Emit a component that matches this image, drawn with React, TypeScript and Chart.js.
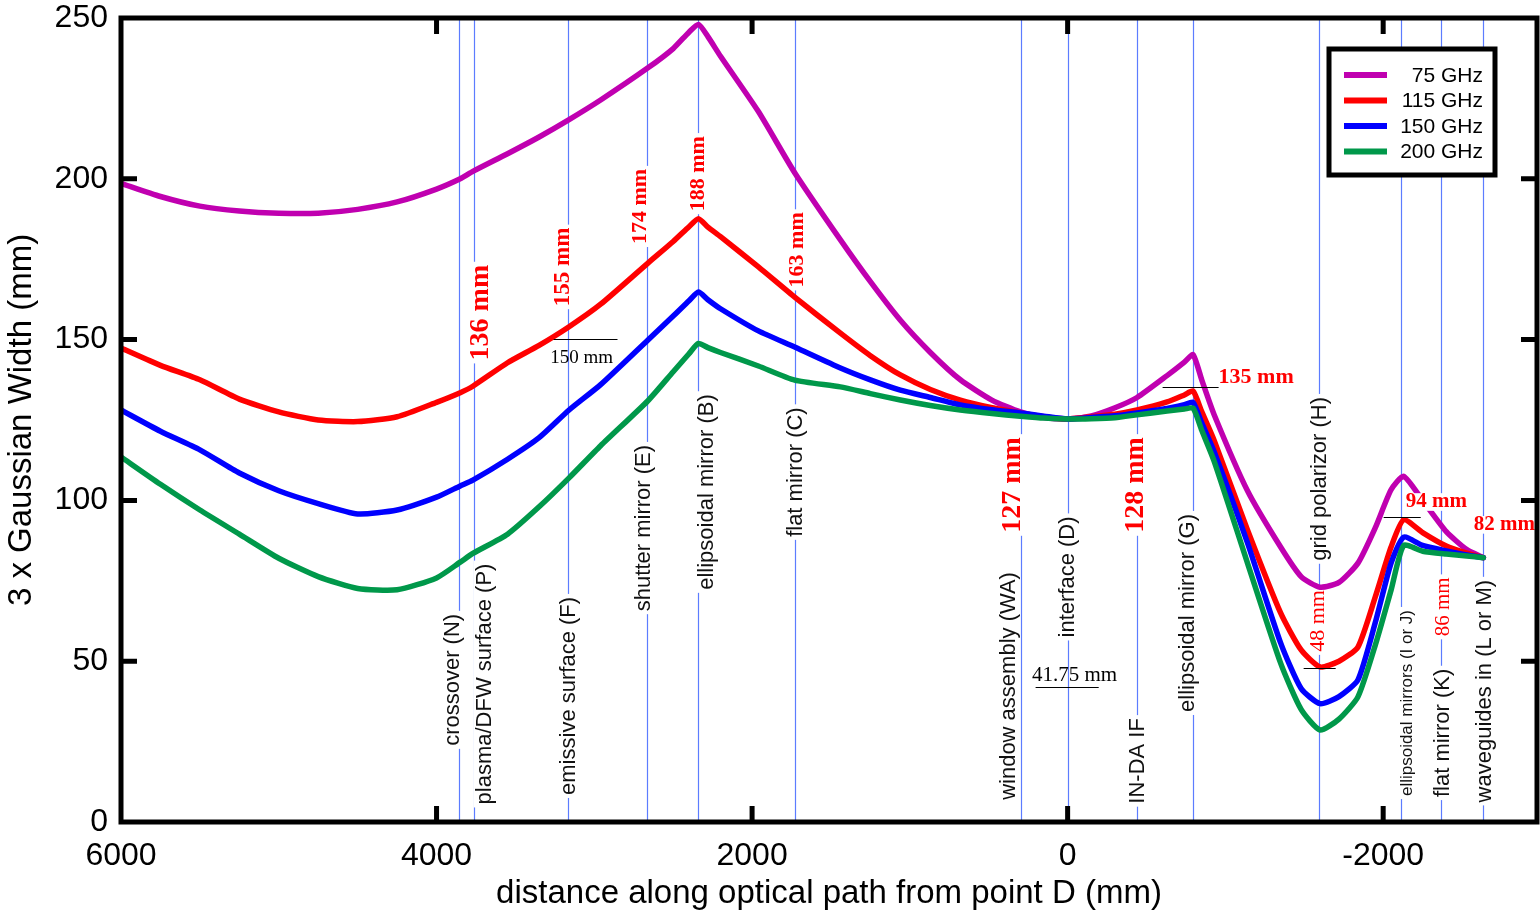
import React, { useEffect, useRef } from 'react';
import { Chart, registerables } from 'chart.js';

Chart.register(...registerables);

// ---------- data ----------
const distances = [6000, 5750, 5500, 5250, 5000, 4750, 4500, 4250, 4000, 3850, 3770, 3550, 3350, 3160, 2960, 2660, 2500, 2400, 2340, 2280, 2200, 1960, 1730, 1440, 1250, 1060, 870, 680, 480, 300, 150, 0, -150, -300, -440, -630, -740, -795, -850, -930, -1140, -1350, -1480, -1600, -1720, -1840, -1950, -2050, -2130, -2250, -2400, -2530, -2635];

const width75 = [198.6, 194.5, 191.5, 190, 189.3, 189.3, 190.5, 192.8, 196.8, 200, 202.3, 207.8, 213, 218.4, 224.5, 234.5, 240.5, 245.6, 248, 244.2, 238.1, 220.9, 201.9, 181, 168, 156, 146, 137.5, 131.2, 127.5, 125.8, 125.3, 126.3, 128.8, 132, 138.8, 143, 145.3, 137.5, 126.5, 103, 85.5, 76.3, 73, 74.5, 80.5, 91.5, 103.3, 107.5, 100, 90.3, 84.7, 82.2];

const width115 = [147.4, 142, 137.5, 131.5, 127.5, 125, 124.5, 126, 130.5, 133.5, 135.5, 142.8, 148.2, 154, 161, 173.8, 180.5, 185.1, 187.6, 185, 182, 172.6, 163.2, 152, 145, 139, 134.5, 131.2, 128.8, 127.2, 126, 125.3, 126, 126.8, 128.1, 130.6, 132.8, 134, 127.6, 118.5, 90.8, 65, 53.5, 48.2, 50, 54.4, 70, 85.5, 94, 90, 85.8, 83.6, 82.2];

const width150 = [128.1, 121.5, 115.7, 108.5, 103, 99, 95.8, 97, 101, 104.5, 106.3, 112.8, 119.5, 128.1, 136, 149.9, 157.3, 162.1, 164.8, 162.4, 159.6, 152.7, 147.7, 141.2, 137.5, 134.3, 132, 129.7, 128.2, 127.2, 126.2, 125.3, 125.8, 126.3, 127.2, 128.6, 129.8, 130.5, 124.1, 115, 86.8, 55.7, 41.5, 36.8, 39, 44.2, 62, 80.5, 88.6, 86, 84.3, 83, 82.2];

const width200 = [113.5, 105, 97, 89.5, 82, 76.3, 72.6, 72.2, 75.9, 80.8, 83.5, 89.5, 98, 107, 117, 131, 140, 145.6, 148.8, 147.5, 146, 141.8, 137.4, 135.3, 133.2, 131.2, 129.5, 128.1, 127, 126.2, 125.6, 125.3, 125.4, 125.7, 126.6, 127.8, 128.4, 128.7, 121.8, 112, 80.5, 49.4, 35, 28.6, 32, 38.9, 55, 72.1, 86, 84.2, 83.3, 82.7, 82.2];

const seriesLabels = ['75 GHz', '115 GHz', '150 GHz', '200 GHz'];
const seriesValues = [width75, width115, width150, width200];

const xTickValues = [6000, 4000, 2000, 0, -2000];
const yTickValues = [0, 50, 100, 150, 200, 250];

const componentNames = [
  'crossover (N)', 'plasma/DFW surface (P)', 'emissive surface (F)', 'shutter mirror (E)',
  'ellipsoidal mirror (B)', 'flat mirror (C)', 'window assembly (WA)', 'interface (D)',
  'IN-DA IF', 'ellipsoidal mirror (G)', 'grid polarizor (H)', 'ellipsoidal mirrors (I or J)',
  'flat mirror (K)', 'waveguides in (L or M)',
];
const componentDistances = [3855, 3765, 3165, 2665, 2342, 1728, 297, 0, -437, -797, -1595, -2115, -2367, -2633];

const widthNoteTexts = ['136 mm', '155 mm', '174 mm', '188 mm', '163 mm', '127 mm', '128 mm', '48 mm', '86 mm'];
const widthNoteDistances = [3721, 3195, 2707, 2339, 1712, 349, -431, -1591, -2383];
const flatNoteTexts = ['135 mm', '94 mm', '82 mm'];
const flatNoteDistances = [-957, -2143, -2574];

// ---------- layout / style ----------
const SANS = '"Liberation Sans", Arial, Helvetica, sans-serif';
const SERIF = '"Liberation Serif", "Times New Roman", Times, serif';
const seriesColors = ['#C000B0', '#FF0000', '#0000FF', '#00984A'];
const componentLabelLayout = [
  { y: 44.2, dx: -6, size: 22 }, { y: 42.9, dx: 11, size: 22 }, { y: 39.2, dx: 1, size: 22 },
  { y: 91.4, dx: -3, size: 22 }, { y: 102.6, dx: 9, size: 22 }, { y: 108.8, dx: 1, size: 22 },
  { y: 42.3, dx: -12, size: 22 }, { y: 76.2, dx: 0, size: 22 }, { y: 19.0, dx: 1, size: 22 },
  { y: 65.0, dx: -5, size: 22 }, { y: 106.7, dx: 1, size: 22 }, { y: 37.0, dx: 6, size: 17 },
  { y: 27.7, dx: 2, size: 22 }, { y: 40.7, dx: 2, size: 22 },
];
const widthNoteLayout = [
  { y: 158.4, size: 28, bold: true }, { y: 172.6, size: 23, bold: true }, { y: 191.4, size: 22, bold: true },
  { y: 201.6, size: 22, bold: true }, { y: 177.9, size: 22, bold: true }, { y: 104.8, size: 28, bold: true },
  { y: 104.8, size: 28, bold: true }, { y: 62.5, size: 22, bold: false }, { y: 66.9, size: 21, bold: false },
];
const flatNoteLayout = [
  { y: 138.4, size: 22 }, { y: 99.5, size: 21 }, { y: 92.4, size: 21 },
];
// black markers: [x1, x2, y]
const markerSegments = [
  [3258, 2853, 150.1], [-602, -957, 135.3], [203, -197, 42.0], [-1496, -1699, 47.9], [-2003, -2238, 94.8],
];
const markerTexts = [
  { text: '150 mm', x: 3081, y: 144.3, size: 19 },
  { text: '41.75 mm', x: -44, y: 45.7, size: 21 },
];

function drawRotated(ctx: CanvasRenderingContext2D, text: string, cx: number, cy: number, font: string, size: number, color: string) {
  ctx.save();
  ctx.font = font;
  const w = ctx.measureText(text).width;
  ctx.translate(cx, cy);
  ctx.rotate(-Math.PI / 2);
  ctx.fillStyle = '#ffffff';
  ctx.fillRect(-w / 2 - 3, -size * 0.5, w + 6, size);
  ctx.fillStyle = color;
  ctx.textAlign = 'center';
  ctx.textBaseline = 'middle';
  ctx.fillText(text, 0, 0);
  ctx.restore();
}

const decorPlugin = {
  id: 'decor',
  beforeDatasetsDraw(chart: any) {
    const { ctx, chartArea: a, scales } = chart;
    const xs = scales.x;
    const ys = scales.y;
    ctx.save();
    // component vertical lines
    ctx.strokeStyle = '#5C7CFF';
    ctx.lineWidth = 1.2;
    componentDistances.forEach((d) => {
      const px = Math.round(xs.getPixelForValue(d)) + 0.5;
      ctx.beginPath();
      ctx.moveTo(px, a.top);
      ctx.lineTo(px, a.bottom);
      ctx.stroke();
    });
    // component labels
    componentNames.forEach((name, i) => {
      const L = componentLabelLayout[i];
      const cx = xs.getPixelForValue(componentDistances[i]) + L.dx;
      const cy = ys.getPixelForValue(L.y);
      drawRotated(ctx, name, cx, cy, `${L.size}px ${SANS}`, L.size, '#111');
    });
    // rotated width notes
    widthNoteTexts.forEach((t, i) => {
      const L = widthNoteLayout[i];
      const cx = xs.getPixelForValue(widthNoteDistances[i]);
      const cy = ys.getPixelForValue(L.y);
      drawRotated(ctx, t, cx, cy, `${L.bold ? 'bold ' : ''}${L.size}px ${SERIF}`, L.size, '#FF0000');
    });
    ctx.restore();
  },
  afterDatasetsDraw(chart: any) {
    const { ctx, chartArea: a, scales } = chart;
    const xs = scales.x;
    const ys = scales.y;
    ctx.save();
    // black markers
    ctx.strokeStyle = '#000';
    ctx.lineWidth = 1;
    markerSegments.forEach(([x1, x2, y]) => {
      const py = Math.round(ys.getPixelForValue(y)) + 0.5;
      ctx.beginPath();
      ctx.moveTo(xs.getPixelForValue(x1), py);
      ctx.lineTo(xs.getPixelForValue(x2), py);
      ctx.stroke();
    });
    ctx.fillStyle = '#000';
    ctx.textAlign = 'center';
    ctx.textBaseline = 'middle';
    markerTexts.forEach((m) => {
      ctx.font = `${m.size}px ${SERIF}`;
      ctx.fillText(m.text, xs.getPixelForValue(m.x), ys.getPixelForValue(m.y));
    });
    // horizontal red notes
    ctx.textAlign = 'left';
    flatNoteTexts.forEach((t, i) => {
      const L = flatNoteLayout[i];
      ctx.font = `bold ${L.size}px ${SERIF}`;
      const w = ctx.measureText(t).width;
      const px = xs.getPixelForValue(flatNoteDistances[i]);
      const py = ys.getPixelForValue(L.y);
      ctx.fillStyle = '#fff';
      ctx.fillRect(px - 1, py - L.size * 0.42, w + 2, L.size * 0.84);
      ctx.fillStyle = '#FF0000';
      ctx.fillText(t, px, py);
    });
    // frame
    ctx.strokeStyle = '#000';
    ctx.lineWidth = 5;
    ctx.strokeRect(a.left, a.top, a.right - a.left, a.bottom - a.top);
    // inward ticks
    const tl = 16;
    ctx.lineWidth = 5;
    ctx.beginPath();
    xTickValues.forEach((v) => {
      const px = xs.getPixelForValue(v);
      if (px <= a.left + 3 || px >= a.right - 3) return;
      ctx.moveTo(px, a.bottom);
      ctx.lineTo(px, a.bottom - tl);
      ctx.moveTo(px, a.top);
      ctx.lineTo(px, a.top + tl);
    });
    yTickValues.forEach((v) => {
      const py = ys.getPixelForValue(v);
      if (py <= a.top + 3 || py >= a.bottom - 3) return;
      ctx.moveTo(a.left, py);
      ctx.lineTo(a.left + tl, py);
      ctx.moveTo(a.right, py);
      ctx.lineTo(a.right - tl, py);
    });
    ctx.stroke();
    // legend
    const bx1 = a.right - 208;
    const bx2 = a.right - 42;
    const by1 = a.top + 31;
    const by2 = a.top + 157;
    ctx.fillStyle = '#fff';
    ctx.fillRect(bx1, by1, bx2 - bx1, by2 - by1);
    ctx.lineWidth = 5;
    ctx.strokeStyle = '#000';
    ctx.strokeRect(bx1, by1, bx2 - bx1, by2 - by1);
    ctx.font = `21px ${SANS}`;
    ctx.textAlign = 'right';
    ctx.textBaseline = 'middle';
    seriesLabels.forEach((lab, i) => {
      const ry = by1 + 26 + i * 25.5;
      ctx.strokeStyle = seriesColors[i];
      ctx.lineWidth = 6;
      ctx.beginPath();
      ctx.moveTo(bx1 + 15, ry);
      ctx.lineTo(bx1 + 58, ry);
      ctx.stroke();
      ctx.fillStyle = '#000';
      ctx.fillText(lab, bx2 - 12, ry + 1);
    });
    ctx.restore();
  },
};

export default function App() {
  const canvasRef = useRef<HTMLCanvasElement | null>(null);

  useEffect(() => {
    const canvas = canvasRef.current;
    if (!canvas) return;
    const datasets = seriesValues.map((vals, i) => ({
      label: seriesLabels[i],
      data: distances.map((d, j) => ({ x: d, y: vals[j] })),
      borderColor: seriesColors[i],
      backgroundColor: seriesColors[i],
      borderWidth: 5.5,
      pointRadius: 0,
      tension: 0.2,
      fill: false,
      borderJoinStyle: 'round' as const,
      borderCapStyle: 'round' as const,
      order: seriesValues.length - 1 - i,
    }));
    const chart = new Chart(canvas, {
      type: 'line',
      data: { datasets },
      options: {
        responsive: false,
        animation: false,
        events: [],
        layout: { padding: { left: 0, top: 18, right: 3, bottom: 0 } },
        plugins: { legend: { display: false }, tooltip: { enabled: false } },
        scales: {
          x: {
            type: 'linear',
            reverse: true,
            min: -2975,
            max: 6000,
            grid: { display: false, drawTicks: false },
            border: { display: false },
            afterBuildTicks: (s: any) => { s.ticks = xTickValues.map((v) => ({ value: v })); },
            afterFit: (s: any) => { s.height = 92; s.paddingLeft = 0; s.paddingRight = 0; },
            ticks: {
              color: '#000', padding: 15, maxRotation: 0, autoSkip: false,
              font: { size: 32, family: SANS, lineHeight: 1.2 },
              callback: (v: any) => String(v),
            },
            title: {
              display: true, text: 'distance along optical path from point D (mm)', color: '#000',
              font: { size: 33, family: SANS, lineHeight: 1.2 }, padding: { top: 0, bottom: 0 },
            },
          },
          y: {
            type: 'linear',
            min: 0,
            max: 250,
            grid: { display: false, drawTicks: false },
            border: { display: false },
            afterBuildTicks: (s: any) => { s.ticks = yTickValues.map((v) => ({ value: v })); },
            afterFit: (s: any) => { s.width = 121; s.paddingTop = 0; s.paddingBottom = 0; },
            ticks: {
              color: '#000', padding: 13,
              font: { size: 32, family: SANS, lineHeight: 1.0 },
              callback: (v: any) => String(v),
            },
            title: {
              display: true, text: '3 x Gaussian Width (mm)', color: '#000',
              font: { size: 33, family: SANS, lineHeight: 1.2 }, padding: { top: 2, bottom: 0 },
            },
          },
        },
      },
      plugins: [decorPlugin],
    });
    return () => chart.destroy();
  }, []);

  return (
    <div style={{ position: 'fixed', left: 0, top: 0, width: 1540, height: 914, background: '#fff' }}>
      <canvas ref={canvasRef} width={1540} height={914} style={{ display: 'block' }} />
    </div>
  );
}
